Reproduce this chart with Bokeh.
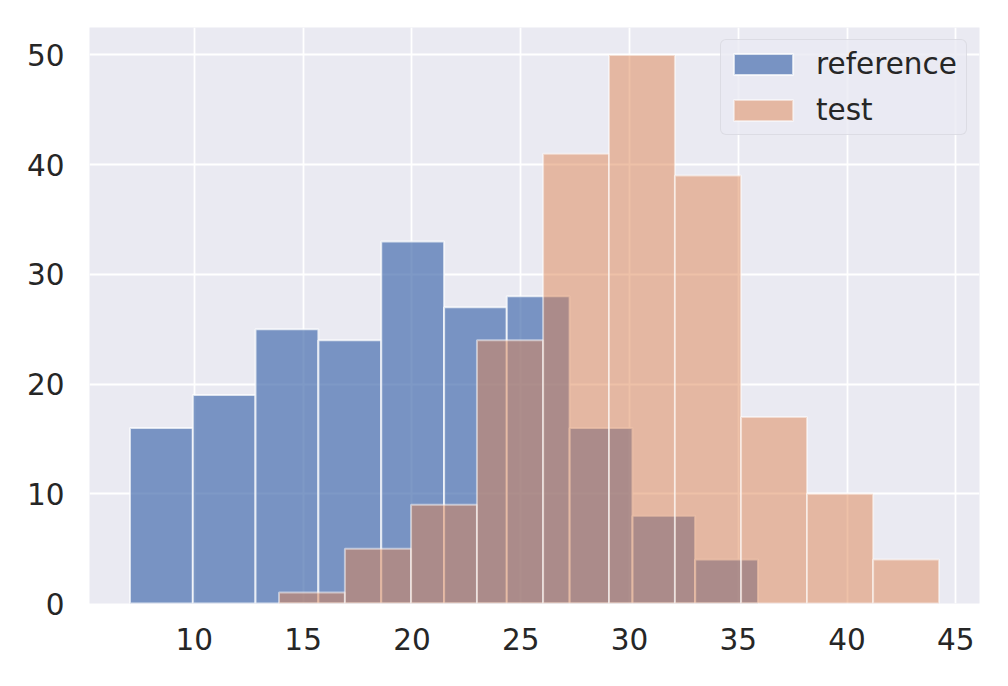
from bokeh.plotting import figure
from bokeh.models import ColumnDataSource, FixedTicker, Range1d, Legend, LegendItem
from bokeh.embed import file_html
from bokeh.resources import INLINE

# ---- data ----
ref_edges = [7.04, 9.93, 12.81, 15.70, 18.59, 21.48, 24.36, 27.25, 30.14, 33.02, 35.91]
ref_counts = [16, 19, 25, 24, 33, 27, 28, 16, 8, 4]

test_edges = [13.89, 16.92, 19.96, 22.99, 26.03, 29.06, 32.09, 35.13, 38.16, 41.20, 44.23]
test_counts = [1, 5, 9, 24, 41, 50, 39, 17, 10, 4]

x_ticks = [10, 15, 20, 25, 30, 35, 40, 45]
y_ticks = [0, 10, 20, 30, 40, 50]

series_names = ["reference", "test"]
series_colors = ["#4C72B0", "#DD8452"]
series_alpha = [0.72, 0.5]

TEXT = "#262626"
FONT = "DejaVu Sans"
FSIZE = "29.5px"

p = figure(width=992, height=670, output_backend="svg", toolbar_location=None,
           x_range=Range1d(5.18, 46.09), y_range=Range1d(0, 52.5),
           min_border_left=89, min_border_right=13, min_border_top=27, min_border_bottom=67)

p.background_fill_color = "#EAEAF2"
p.border_fill_color = "white"
p.outline_line_color = None

for g in (p.xgrid, p.ygrid):
    g.grid_line_color = "white"
    g.grid_line_width = 1.8

p.xaxis.ticker = FixedTicker(ticks=x_ticks)
p.yaxis.ticker = FixedTicker(ticks=y_ticks)
p.xgrid.ticker = FixedTicker(ticks=x_ticks)
p.ygrid.ticker = FixedTicker(ticks=y_ticks)

for ax in (p.xaxis, p.yaxis):
    ax.axis_line_color = None
    ax.major_tick_line_color = None
    ax.minor_tick_line_color = None
    ax.major_tick_out = 0
    ax.major_tick_in = 0
    ax.minor_tick_out = 0
    ax.minor_tick_in = 0
    ax.major_label_text_font = FONT
    ax.major_label_text_font_size = FSIZE
    ax.major_label_text_color = TEXT
p.xaxis.major_label_standoff = 24
p.yaxis.major_label_standoff = 25

renderers = []
for edges, counts, color, alpha in ((ref_edges, ref_counts, series_colors[0], series_alpha[0]),
                                    (test_edges, test_counts, series_colors[1], series_alpha[1])):
    src = ColumnDataSource(dict(left=edges[:-1], right=edges[1:], top=counts,
                                bottom=[0] * len(counts)))
    r = p.quad(left="left", right="right", top="top", bottom="bottom", source=src,
               fill_color=color, fill_alpha=alpha, line_color="white",
               line_alpha=alpha, line_width=2)
    renderers.append(r)

legend = Legend(items=[LegendItem(label=series_names[i], renderers=[renderers[i]]) for i in range(2)],
                location="top_right")
legend.margin = 12
legend.padding = 5
legend.spacing = 8
legend.glyph_width = 74
legend.glyph_height = 26
legend.label_standoff = 16
legend.label_width = 145
legend.label_height = 38
legend.label_text_font = FONT
legend.label_text_font_size = FSIZE
legend.label_text_color = TEXT
legend.background_fill_color = "#EAEAF2"
legend.background_fill_alpha = 0.8
legend.border_line_color = "#D0D0D6"
legend.border_line_width = 1.5
if "border_radius" in Legend.properties():
    legend.border_radius = 6
p.add_layout(legend, "center")

open("out.html", "w").write(file_html(p, INLINE))
